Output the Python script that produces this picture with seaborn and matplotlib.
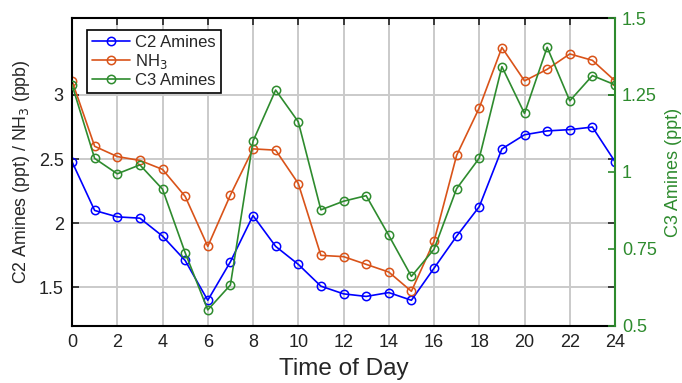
import numpy as np
import pandas as pd
import matplotlib
matplotlib.use("Agg")
import matplotlib.pyplot as plt
import seaborn as sns
from matplotlib.lines import Line2D

# --- Data ---
hours = list(range(25))
c2_amines = [2.48, 2.10, 2.05, 2.04, 1.90, 1.71, 1.40, 1.70, 2.06, 1.82, 1.68, 1.51,
             1.45, 1.43, 1.46, 1.40, 1.65, 1.90, 2.13, 2.58, 2.69, 2.72, 2.73, 2.75, 2.48]
nh3 = [3.11, 2.60, 2.52, 2.49, 2.42, 2.21, 1.82, 2.22, 2.58, 2.57, 2.31, 1.75,
       1.74, 1.68, 1.62, 1.47, 1.86, 2.53, 2.90, 3.37, 3.11, 3.20, 3.32, 3.27, 3.11]
c3_amines = [1.283, 1.044, 0.994, 1.023, 0.944, 0.738, 0.552, 0.633, 1.100, 1.266, 1.163, 0.877,
             0.905, 0.923, 0.794, 0.661, 0.749, 0.946, 1.045, 1.342, 1.190, 1.405, 1.231, 1.313, 1.283]

BLUE = "#0000FF"
ORANGE = "#D95319"
GREEN = "#2E8B2E"

sns.set_style("white")
plt.rcParams['font.family'] = ['Liberation Sans', 'DejaVu Sans']

df = pd.DataFrame({"hour": hours, "c2": c2_amines, "nh3": nh3, "c3": c3_amines})

fig = plt.figure(figsize=(6.82, 3.83), dpi=100)
ax = fig.add_axes([0.1056, 0.149, 0.7962, 0.804])
ax2 = ax.twinx()

mk = dict(marker='o', markersize=6, markerfacecolor='none', markeredgewidth=1.1, linewidth=1.2)
sns.lineplot(data=df, x="hour", y="c2", ax=ax, color=BLUE, markeredgecolor=BLUE, **mk)
sns.lineplot(data=df, x="hour", y="nh3", ax=ax, color=ORANGE, markeredgecolor=ORANGE, **mk)
sns.lineplot(data=df, x="hour", y="c3", ax=ax2, color=GREEN, markeredgecolor=GREEN, **mk)

ax.set_xlim(0, 24)
ax.set_ylim(1.2, 3.6)
ax.set_xticks(range(0, 25, 2))
ax.set_yticks([1.5, 2, 2.5, 3])
ax.set_yticklabels(["1.5", "2", "2.5", "3"])
ax2.set_ylim(0.5, 1.5)
ax2.set_yticks([0.5, 0.75, 1, 1.25, 1.5])
ax2.set_yticklabels(["0.5", "0.75", "1", "1.25", "1.5"])

ax.grid(True, color="#CACACA", linewidth=1.4)
ax2.grid(False)
ax.set_axisbelow(True)

ax.tick_params(direction='in', top=True, right=True, length=5, width=1.2,
               labelsize=13, colors='#222222', pad=6)
ax2.tick_params(direction='in', length=5, width=1.2, labelsize=13, colors=GREEN, pad=5)

for s in ["left", "top", "bottom"]:
    ax.spines[s].set_color("black")
    ax.spines[s].set_linewidth(1.5)
ax2.spines["right"].set_color(GREEN)
ax2.spines["right"].set_linewidth(1.5)
ax2.spines["left"].set_visible(False)
ax2.spines["top"].set_visible(False)
ax2.spines["bottom"].set_visible(False)
ax.spines["right"].set_visible(False)

ax.set_xlabel("Time of Day", fontsize=17.5, labelpad=5)
ax.set_ylabel("C2 Amines (ppt) / NH$_3$ (ppb)", fontsize=12.8, labelpad=5)
ax2.set_ylabel("C3 Amines (ppt)", fontsize=13, color=GREEN, labelpad=6)

handles = [
    Line2D([], [], color=BLUE, markeredgecolor=BLUE, **mk),
    Line2D([], [], color=ORANGE, markeredgecolor=ORANGE, **mk),
    Line2D([], [], color=GREEN, markeredgecolor=GREEN, **mk),
]
leg = ax.legend(handles, ["C2 Amines", "NH$_3$", "C3 Amines"], loc="upper left",
                bbox_to_anchor=(0.027, 0.962), fontsize=12, frameon=True, fancybox=False,
                edgecolor="black", framealpha=1, handlelength=2.3, handletextpad=0.3,
                borderpad=0.3, labelspacing=0.12, borderaxespad=0)
leg.get_frame().set_linewidth(1.2)

fig.savefig("out.png", dpi=100)
